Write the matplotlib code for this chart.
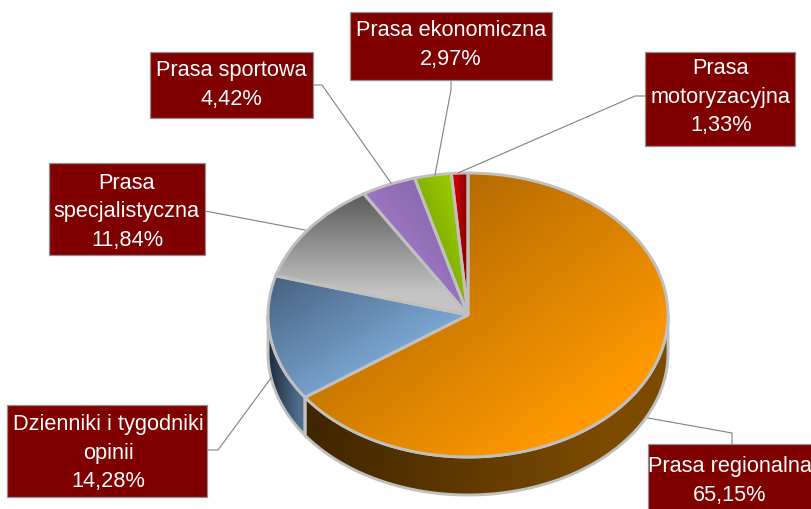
import numpy as np
import matplotlib
matplotlib.use("Agg")
import matplotlib.pyplot as plt
from matplotlib.colors import to_rgb
from matplotlib.patches import Polygon, Rectangle

categories = ["Prasa regionalna", "Dzienniki i tygodniki\nopinii", "Prasa\nspecjalistyczna",
              "Prasa sportowa", "Prasa ekonomiczna", "Prasa\nmotoryzacyjna"]
shares = [65.15, 14.28, 11.84, 4.42, 2.97, 1.33]

W, H = 811, 509
CX, CY, RX, RY, DEPTH = 468, 315, 200, 142, 38
EDGE = "#c0c0c0"
BOX = "#800000"

# (dark colour, light colour, gradient direction x, y in a y-up bbox)
top_styles = [("#985a00", "#ff9900", 1, -1), ("#46607e", "#88b8e8", 1, -1), ("#5a5a5a", "#c4c4c4", 0, -1),
              ("#7c5e9c", "#ab80d4", -1, -1), ("#6a8c00", "#99cc00", 1, 1), ("#800000", "#d40000", -1, 0)]
wall_styles = {0: ("#3e2500", "#7c4b00"), 1: ("#1c2a3a", "#4f6e8e")}

# box x0, y0, x1, y1, and leader polyline in pixels
boxes = [(648, 444, 830, 530), (7, 405, 207, 497), (49, 163, 205, 255),
         (150, 52, 313, 118), (350, 12, 552, 80), (645, 52, 795, 146)]
text_centers = [(729.5, 481), (108, 453), (127, 212), (231, 85), (451, 45), (721, 97)]
leaders = [[(648, 418), (732, 433), (732, 444)],
           [(271, 378), (218, 450), (207, 450)],
           [(205, 211), (305, 230)],
           [(313, 85), (322, 85), (391, 183)],
           [(451, 80), (451, 90), (435, 175)],
           [(645, 96), (635, 96), (458, 173)]]

plt.rcParams["font.family"] = ["Liberation Sans", "DejaVu Sans"]
fig = plt.figure(figsize=(W / 100, H / 100), dpi=100, facecolor="white")
ax = fig.add_axes([0, 0, 1, 1])
wedges, _ = ax.pie(shares, startangle=90, counterclock=False, radius=1,
                   wedgeprops=dict(edgecolor=EDGE, linewidth=2.1, facecolor="none", zorder=5))
xlim = (-CX / RX, (W - CX) / RX)
ylim = ((CY - H) / RY, CY / RY)
ax.set_aspect("auto")
ax.set_xlim(xlim)
ax.set_ylim(ylim)
ax.axis("off")
d = DEPTH / RY


def gradient(dark, light, dx, dy, extent, clip, zorder):
    x0, x1, y0, y1 = extent
    X, Y = np.meshgrid(np.linspace(0, 1, 300), np.linspace(1, 0, 300))
    t = dx * X + dy * Y
    t = (t - t.min()) / max(t.max() - t.min(), 1e-9)
    t = np.clip(t * 1.22, 0, 1)
    a, b = np.array(to_rgb(dark)), np.array(to_rgb(light))
    img = a + (b - a) * t[..., None]
    im = ax.imshow(img, extent=extent, aspect="auto", zorder=zorder, interpolation="bilinear")
    im.set_clip_path(clip)


# side walls
for i, w in enumerate(wedges):
    if i not in wall_styles:
        continue
    lo = max(w.theta1, -180)
    hi = min(w.theta2, 0)
    th = np.radians(np.linspace(lo, hi, 200))
    xs, ys = np.cos(th), np.sin(th)
    pts = np.r_[np.c_[xs, ys], np.c_[xs, ys - d][::-1]]
    poly = Polygon(pts, closed=True, facecolor="none", edgecolor=EDGE, linewidth=2.1, zorder=3)
    ax.add_patch(poly)
    dark, light = wall_styles[i]
    gradient(dark, light, 1, 0, (xs.min(), xs.max(), (ys - d).min(), ys.max()), poly, 2)

# top face
for w, (dark, light, dx, dy) in zip(wedges, top_styles):
    bb = w.get_path().get_extents(w.get_patch_transform())
    gradient(dark, light, dx, dy, (bb.x0, bb.x1, bb.y0, bb.y1), w, 4)
ax.set_xlim(xlim)
ax.set_ylim(ylim)

# labels on a pixel-scaled overlay
ov = fig.add_axes([0, 0, 1, 1], facecolor="none")
ov.set_xlim(0, W)
ov.set_ylim(H, 0)
ov.axis("off")
for pts in leaders:
    xs, ys = zip(*pts)
    ov.plot(xs, ys, color="#808080", lw=0.8, zorder=1)
for name, val, (x0, y0, x1, y1), (tx, ty) in zip(categories, shares, boxes, text_centers):
    ov.add_patch(Rectangle((x0, y0), x1 - x0, y1 - y0, facecolor=BOX, edgecolor="#909090", lw=0.9, zorder=2))
    label = f"{name}\n{val:.2f}".replace(".", ",") + "%"
    ov.text(tx, ty, label, color="white", fontsize=15.7, ha="center", va="center",
            linespacing=1.45, zorder=3)

fig.savefig("out.png", dpi=100)
